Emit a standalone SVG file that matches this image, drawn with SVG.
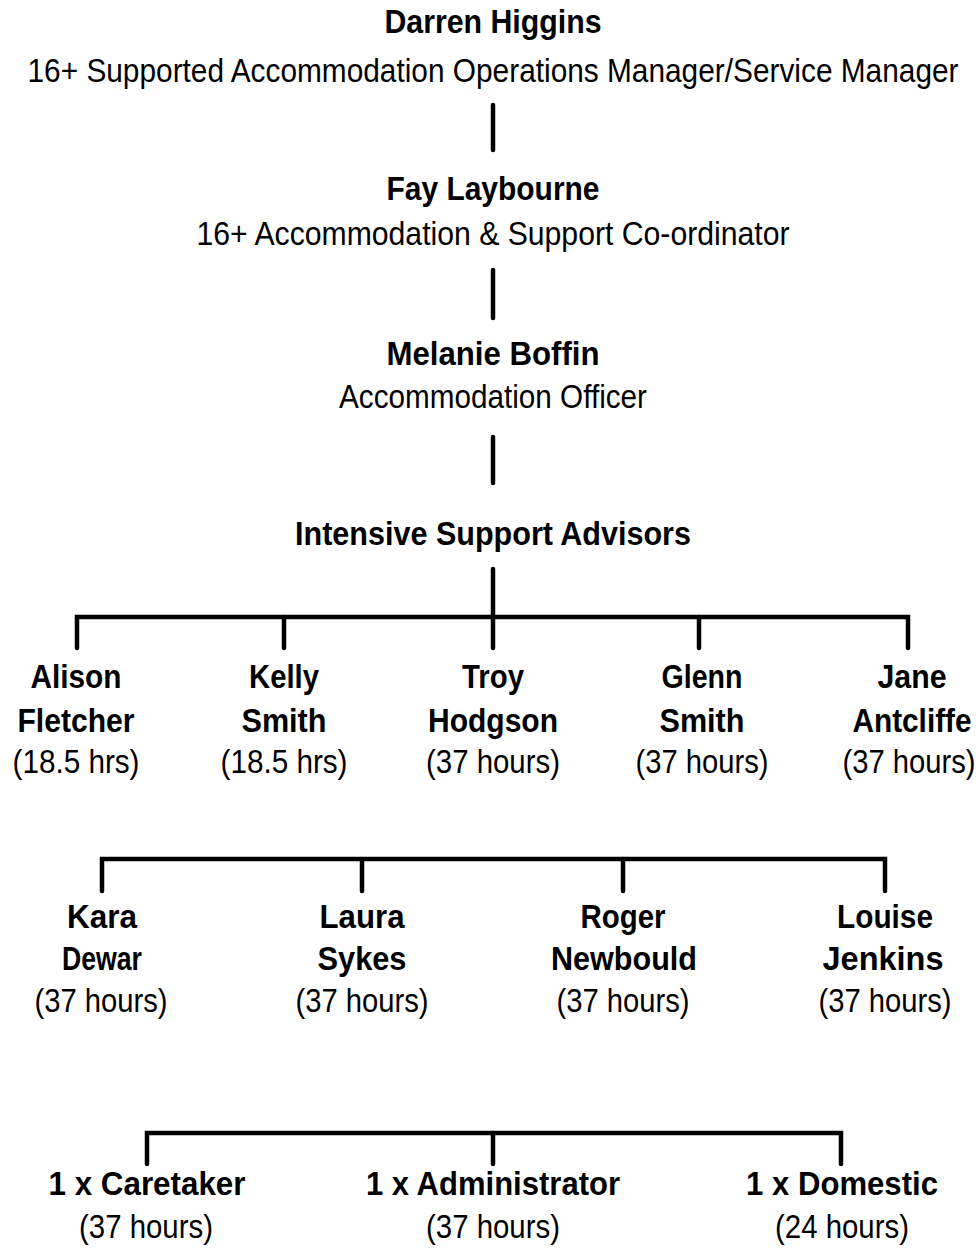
<svg xmlns="http://www.w3.org/2000/svg" width="980" height="1253" viewBox="0 0 980 1253">
<style>
text{font-family:"Liberation Sans Narrow","Liberation Sans",Arial,Helvetica,sans-serif;font-size:34px;fill:#000;text-anchor:middle}
.b{font-weight:bold}
.conn{fill:none;stroke:#000;stroke-width:4.5;stroke-linecap:round;stroke-linejoin:miter}
</style>
<rect width="980" height="1253" fill="#fff"/>
<g id="connectors" class="conn">
<path d="M493 105V150"/>
<path d="M493 270V318"/>
<path d="M493 437V483"/>
<path d="M493 569V648"/>
<path d="M77 648V617H908V648"/>
<path d="M284 617V648"/>
<path d="M699 617V648"/>
<path d="M102 891V859H885V891"/>
<path d="M362 859V891"/>
<path d="M623 859V891"/>
<path d="M147 1164V1133H841V1164"/>
<path d="M493 1133V1164"/>
</g>
<g id="darren">
<text class="b" x="493" y="33" textLength="217" lengthAdjust="spacingAndGlyphs">Darren Higgins</text>
<text x="493" y="82" textLength="931" lengthAdjust="spacingAndGlyphs">16+ Supported Accommodation Operations Manager/Service Manager</text>
</g>
<g id="fay">
<text class="b" x="493" y="200" textLength="213" lengthAdjust="spacingAndGlyphs">Fay Laybourne</text>
<text x="493" y="245" textLength="593" lengthAdjust="spacingAndGlyphs">16+ Accommodation &amp; Support Co-ordinator</text>
</g>
<g id="melanie">
<text class="b" x="493" y="365" textLength="213" lengthAdjust="spacingAndGlyphs">Melanie Boffin</text>
<text x="493" y="408" textLength="308" lengthAdjust="spacingAndGlyphs">Accommodation Officer</text>
</g>
<g id="isa">
<text class="b" x="493" y="545" textLength="396" lengthAdjust="spacingAndGlyphs">Intensive Support Advisors</text>
</g>
<g id="alison">
<text class="b" x="76" y="688" textLength="91" lengthAdjust="spacingAndGlyphs">Alison</text>
<text class="b" x="76" y="732" textLength="117" lengthAdjust="spacingAndGlyphs">Fletcher</text>
<text x="76" y="773" textLength="127" lengthAdjust="spacingAndGlyphs">(18.5 hrs)</text>
</g>
<g id="kelly">
<text class="b" x="284" y="688" textLength="70" lengthAdjust="spacingAndGlyphs">Kelly</text>
<text class="b" x="284" y="732" textLength="85" lengthAdjust="spacingAndGlyphs">Smith</text>
<text x="284" y="773" textLength="127" lengthAdjust="spacingAndGlyphs">(18.5 hrs)</text>
</g>
<g id="troy">
<text class="b" x="493" y="688" textLength="62" lengthAdjust="spacingAndGlyphs">Troy</text>
<text class="b" x="493" y="732" textLength="130" lengthAdjust="spacingAndGlyphs">Hodgson</text>
<text x="493" y="773" textLength="134" lengthAdjust="spacingAndGlyphs">(37 hours)</text>
</g>
<g id="glenn">
<text class="b" x="702" y="688" textLength="81" lengthAdjust="spacingAndGlyphs">Glenn</text>
<text class="b" x="702" y="732" textLength="85" lengthAdjust="spacingAndGlyphs">Smith</text>
<text x="702" y="773" textLength="133" lengthAdjust="spacingAndGlyphs">(37 hours)</text>
</g>
<g id="jane">
<text class="b" x="912" y="688" textLength="69" lengthAdjust="spacingAndGlyphs">Jane</text>
<text class="b" x="912" y="732" textLength="119" lengthAdjust="spacingAndGlyphs">Antcliffe</text>
<text x="909" y="773" textLength="133" lengthAdjust="spacingAndGlyphs">(37 hours)</text>
</g>
<g id="kara">
<text class="b" x="102" y="928" textLength="70" lengthAdjust="spacingAndGlyphs">Kara</text>
<text class="b" x="102" y="970" textLength="80" lengthAdjust="spacingAndGlyphs">Dewar</text>
<text x="101" y="1012" textLength="133" lengthAdjust="spacingAndGlyphs">(37 hours)</text>
</g>
<g id="laura">
<text class="b" x="362" y="928" textLength="85" lengthAdjust="spacingAndGlyphs">Laura</text>
<text class="b" x="362" y="970" textLength="89" lengthAdjust="spacingAndGlyphs">Sykes</text>
<text x="362" y="1012" textLength="133" lengthAdjust="spacingAndGlyphs">(37 hours)</text>
</g>
<g id="roger">
<text class="b" x="623" y="928" textLength="85" lengthAdjust="spacingAndGlyphs">Roger</text>
<text class="b" x="624" y="970" textLength="146" lengthAdjust="spacingAndGlyphs">Newbould</text>
<text x="623" y="1012" textLength="133" lengthAdjust="spacingAndGlyphs">(37 hours)</text>
</g>
<g id="louise">
<text class="b" x="885" y="928" textLength="96" lengthAdjust="spacingAndGlyphs">Louise</text>
<text class="b" x="883" y="970" textLength="121" lengthAdjust="spacingAndGlyphs">Jenkins</text>
<text x="885" y="1012" textLength="133" lengthAdjust="spacingAndGlyphs">(37 hours)</text>
</g>
<g id="caretaker">
<text class="b" x="147" y="1195" textLength="197" lengthAdjust="spacingAndGlyphs">1 x Caretaker</text>
<text x="146" y="1238" textLength="134" lengthAdjust="spacingAndGlyphs">(37 hours)</text>
</g>
<g id="administrator">
<text class="b" x="493" y="1195" textLength="254" lengthAdjust="spacingAndGlyphs">1 x Administrator</text>
<text x="493" y="1238" textLength="134" lengthAdjust="spacingAndGlyphs">(37 hours)</text>
</g>
<g id="domestic">
<text class="b" x="842" y="1195" textLength="192" lengthAdjust="spacingAndGlyphs">1 x Domestic</text>
<text x="842" y="1238" textLength="134" lengthAdjust="spacingAndGlyphs">(24 hours)</text>
</g>
</svg>
